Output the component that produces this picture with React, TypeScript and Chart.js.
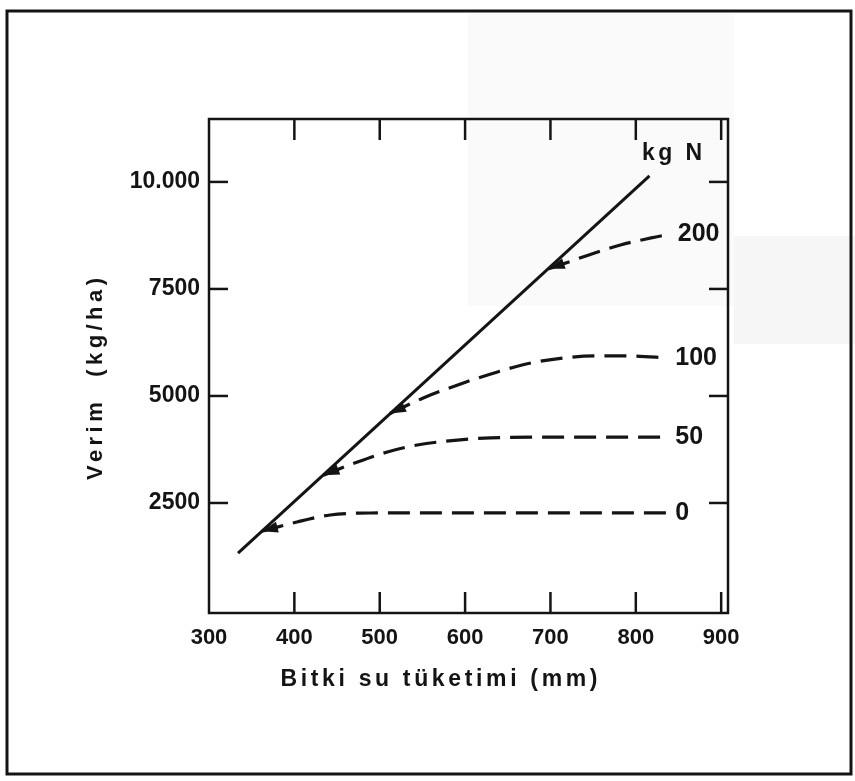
import React, { useEffect, useRef } from "react";
import { Chart, registerables } from "chart.js";

Chart.register(...registerables);

// ---- data ----
const xTickValues = [300, 400, 500, 600, 700, 800, 900];
const xTickLabels = ["300", "400", "500", "600", "700", "800", "900"];
const yTickValues = [2500, 5000, 7500, 10000];
const yTickLabels = ["2500", "5000", "7500", "10.000"];

const limitX = [334, 816];
const limitY = [1330, 10140];

const n0X = [362, 403, 442, 489, 560, 650, 750, 838];
const n0Y = [1840, 2056, 2220, 2266, 2270, 2270, 2270, 2270];
const n50X = [434, 474, 509, 544, 591, 630, 735, 838];
const n50Y = [3150, 3458, 3692, 3855, 3970, 4020, 4040, 4040];
const n100X = [512, 551, 598, 638, 677, 715, 755, 794, 838];
const n100Y = [4590, 4953, 5304, 5561, 5771, 5888, 5935, 5935, 5888];
const n200X = [698, 718, 745, 782, 818, 841];
const n200Y = [7970, 8107, 8294, 8528, 8692, 8785];

const seriesLabels = ["0", "50", "100", "200"];
const legendTitle = "kg N";
const xTitle = "Bitki su tüketimi (mm)";
const yTitle = "Verim  (kg/ha)";

const toPts = (xs: number[], ys: number[]) => xs.map((x, i) => ({ x, y: ys[i] }));

const INK = "#141414";
const FONT = '"Liberation Sans", Arial, sans-serif';

function spacedText(ctx: CanvasRenderingContext2D, text: string, cx: number, cy: number, target: number) {
  (ctx as any).letterSpacing = "0px";
  const w = ctx.measureText(text).width;
  const n = Array.from(text).length;
  const sp = Math.max(0, (target - w) / (n - 1));
  (ctx as any).letterSpacing = sp + "px";
  ctx.textAlign = "left";
  ctx.fillText(text, cx - target / 2, cy);
  (ctx as any).letterSpacing = "0px";
}

const decor = {
  id: "decor",
  beforeDraw(chart: any) {
    const ctx = chart.ctx as CanvasRenderingContext2D;
    ctx.save();
    ctx.fillStyle = "#ffffff";
    ctx.fillRect(0, 0, chart.width, chart.height);
    ctx.fillStyle = "rgba(0,0,0,0.018)";
    ctx.fillRect(468, 14, 266, 292);
    ctx.fillStyle = "rgba(0,0,0,0.035)";
    ctx.fillRect(734, 236, 121, 108);
    ctx.strokeStyle = INK;
    ctx.lineWidth = 3;
    ctx.strokeRect(7, 11, 844, 763);
    ctx.restore();
  },
  afterDatasetsDraw(chart: any) {
    const ctx = chart.ctx as CanvasRenderingContext2D;
    const { left, right, top, bottom } = chart.chartArea;
    const xs = chart.scales.x;
    const ys = chart.scales.y;
    ctx.save();
    ctx.strokeStyle = INK;
    ctx.fillStyle = INK;
    ctx.lineWidth = 2.5;
    ctx.lineCap = "butt";
    const line = (a: number, b: number, c: number, d: number) => {
      ctx.beginPath();
      ctx.moveTo(a, b);
      ctx.lineTo(c, d);
      ctx.stroke();
    };
    // frame
    ctx.strokeRect(left, top, right - left, bottom - top);
    // inner ticks
    xTickValues.forEach((v) => {
      const px = xs.getPixelForValue(v);
      if (px <= left + 2) return;
      line(px, bottom, px, bottom - 21);
      line(px, top, px, top + 21);
    });
    yTickValues.forEach((v) => {
      const py = ys.getPixelForValue(v);
      line(left, py, left + 19, py);
      line(right, py, right - 19, py);
    });
    // arrowheads at the start of dashed curves
    for (let i = 1; i < chart.data.datasets.length; i++) {
      const meta = chart.getDatasetMeta(i);
      const p0 = meta.data[0];
      const p1 = meta.data[1];
      if (!p0 || !p1) continue;
      let dx = p0.x - p1.x;
      let dy = p0.y - p1.y;
      const len = Math.hypot(dx, dy) || 1;
      dx /= len;
      dy /= len;
      const L = 16;
      const H = 5.5;
      const bx = p0.x - dx * L;
      const by = p0.y - dy * L;
      ctx.beginPath();
      ctx.moveTo(p0.x, p0.y);
      ctx.lineTo(bx - dy * H, by + dx * H);
      ctx.lineTo(bx + dy * H, by - dx * H);
      ctx.closePath();
      ctx.fill();
    }
    // series labels
    ctx.font = "bold 25px " + FONT;
    ctx.textBaseline = "middle";
    ctx.textAlign = "left";
    for (let i = 1; i < chart.data.datasets.length; i++) {
      const meta = chart.getDatasetMeta(i);
      const last = meta.data[meta.data.length - 1];
      ctx.fillText(seriesLabels[i - 1], last.x + 7, last.y);
    }
    // kg N
    ctx.font = "bold 23px " + FONT;
    ctx.textBaseline = "middle";
    spacedText(ctx, legendTitle, 672, 154, 60);
    // axis titles
    ctx.font = "bold 23px " + FONT;
    spacedText(ctx, xTitle, 439, 680, 317);
    ctx.translate(96, 379);
    ctx.rotate(-Math.PI / 2);
    ctx.font = "bold 22px " + FONT;
    spacedText(ctx, yTitle, 0, 0, 202);
    ctx.restore();
  },
};

export default function App() {
  const ref = useRef<HTMLCanvasElement>(null);
  useEffect(() => {
    const dashed = (pts: any) => ({
      data: pts,
      borderColor: INK,
      borderWidth: 3.2,
      borderDash: [22, 10],
      pointRadius: 0,
      cubicInterpolationMode: "monotone" as const,
      fill: false,
    });
    const chart = new Chart(ref.current as HTMLCanvasElement, {
      type: "line",
      data: {
        datasets: [
          {
            data: toPts(limitX, limitY),
            borderColor: INK,
            borderWidth: 3,
            pointRadius: 0,
            fill: false,
          },
          dashed(toPts(n0X, n0Y)),
          dashed(toPts(n50X, n50Y)),
          dashed(toPts(n100X, n100Y)),
          dashed(toPts(n200X, n200Y)),
        ],
      },
      options: {
        animation: false,
        responsive: false,
        events: [],
        layout: { padding: { left: 0, top: 119, right: 127, bottom: 0 } },
        plugins: { legend: { display: false }, tooltip: { enabled: false } },
        scales: {
          x: {
            type: "linear",
            min: 300,
            max: 908,
            grid: { display: false, drawTicks: false },
            border: { display: false },
            afterBuildTicks: (s: any) => {
              s.ticks = xTickValues.map((v) => ({ value: v }));
            },
            afterFit: (s: any) => {
              s.height = 168;
            },
            ticks: {
              autoSkip: false,
              maxRotation: 0,
              padding: 12,
              color: INK,
              font: { family: FONT, size: 22, weight: "bold" },
              callback: (v: any) => {
                const i = xTickValues.indexOf(Number(v));
                return i >= 0 ? xTickLabels[i] : "";
              },
            },
          },
          y: {
            type: "linear",
            min: -70,
            max: 11470,
            grid: { display: false, drawTicks: false },
            border: { display: false },
            afterBuildTicks: (s: any) => {
              s.ticks = yTickValues.map((v) => ({ value: v }));
            },
            afterFit: (s: any) => {
              s.width = 209;
            },
            ticks: {
              autoSkip: false,
              padding: 9,
              color: INK,
              font: { family: FONT, size: 23, weight: "bold" },
              callback: (v: any) => {
                const i = yTickValues.indexOf(Number(v));
                return i >= 0 ? yTickLabels[i] : "";
              },
            },
          },
        },
      },
      plugins: [decor],
    } as any);
    return () => chart.destroy();
  }, []);
  return (
    <div style={{ position: "absolute", left: 0, top: 0, width: 855, height: 781, background: "#fff" }}>
      <canvas ref={ref} width={855} height={781} style={{ display: "block", width: 855, height: 781 }} />
    </div>
  );
}
